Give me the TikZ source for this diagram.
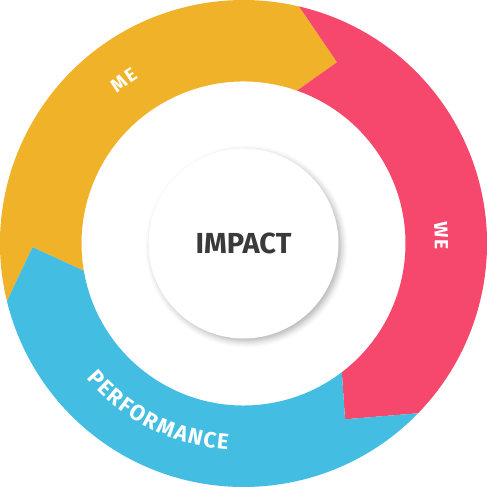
\documentclass[tikz,border=0pt]{standalone}
\usepackage{fontspec}
\setmainfont{Fira Sans}
\usetikzlibrary{shadows.blur}
\definecolor{segyellow}{RGB}{240,178,41}
\definecolor{segpink}{RGB}{245,72,108}
\definecolor{segblue}{RGB}{67,190,226}
\definecolor{impactgray}{RGB}{58,58,58}
\newcommand\perffont{\bfseries\fontsize{22}{22}\selectfont}
\newcommand\smallringfont{\bfseries\fontsize{19}{19}\selectfont}
\newlength\glw
% measure letter widths (outside the picture)
\newcommand\measureword[3]{%
  \gdef\rwtotal{0}\gdef\rwn{0}%
  \foreach \ch [count=\k] in {#3}{%
    \settowidth{\glw}{#2\ch}%
    \expandafter\xdef\csname rw#1\k\endcsname{\the\glw}%
    \pgfmathparse{\rwtotal+\glw}\xdef\rwtotal{\pgfmathresult}%
    \xdef\rwn{\k}%
  }%
  \expandafter\xdef\csname rw#1total\endcsname{\rwtotal}%
  \expandafter\xdef\csname rw#1n\endcsname{\rwn}%
}
% #1 name prefix, #2 font, #3 letters, #4 mid angle, #5 radius, #6 dir (1 ccw, -1 cw), #7 spacing
\newcommand\ringword[7]{%
  \pgfmathparse{#4-(#6)*deg((\csname rw#1total\endcsname+(\csname rw#1n\endcsname-1)*#7)/2/#5)}%
  \xdef\rwang{\pgfmathresult}%
  \foreach \ch [count=\k] in {#3}{%
    \edef\cw{\csname rw#1\k\endcsname}%
    \pgfmathsetmacro\cang{\rwang+(#6)*deg(\cw/2/#5)}%
    \pgfmathsetmacro\crot{\cang+(#6)*90}%
    \node[ringchar, font=#2, rotate=\crot] (#1-\k) at (\cang:#5pt) {\ch};
    \pgfmathparse{\rwang+(#6)*deg((\cw+#7)/#5)}\xdef\rwang{\pgfmathresult}%
  }%
}
\tikzset{
  ringchar/.style={inner sep=0pt, text=white, anchor=center},
  hub/.style={circle, fill=white, minimum size=190pt, inner sep=0pt,
    blur shadow={shadow xshift=3pt, shadow yshift=-3pt, shadow blur radius=6pt, shadow opacity=30},
    text=impactgray, font=\bfseries\fontsize{29}{29}\selectfont}
}
\begin{document}%
\measureword{perf}{\perffont}{P,E,R,F,O,R,M,A,N,C,E}%
\measureword{me}{\smallringfont}{M,E}%
\measureword{we}{\smallringfont}{W,E}%
\begin{tikzpicture}
\useasboundingbox (-243.5pt,-243.5pt) rectangle (243.5pt,243.5pt);
\def\Ro{243.5pt}
\def\Ri{162pt}
% ME segment
\fill[segyellow] (193.7:\Ro) arc[start angle=193.7,end angle=76.8,radius=\Ro]
  -- (62.7:204pt) -- (70.7:\Ri) arc[start angle=70.7,end angle=189.7,radius=\Ri]
  -- (181:211pt) -- cycle;
% WE segment
\fill[segpink] (76.8:\Ro) arc[start angle=76.8,end angle=-44.2,radius=\Ro]
  -- (-60:203pt) -- (-52.6:\Ri) arc[start angle=-52.6,end angle=70.7,radius=\Ri]
  -- (62.7:204pt) -- cycle;
% PERFORMANCE segment
\fill[segblue] (-44.2:\Ro) arc[start angle=-44.2,end angle=-166.3,radius=\Ro]
  -- (-179:211pt) -- (-170.3:\Ri) arc[start angle=-170.3,end angle=-52.6,radius=\Ri]
  -- (-60:203pt) -- cycle;
% hub
\node[hub] (impact) at (0,0) {IMPACT};
% labels
\ringword{perf}{\perffont}{P,E,R,F,O,R,M,A,N,C,E}{243.2}{199.5}{1}{1}
\ringword{me}{\smallringfont}{M,E}{126.2}{203}{-1}{2}
\ringword{we}{\smallringfont}{W,E}{2.3}{198}{-1}{2}
\end{tikzpicture}
\end{document}
